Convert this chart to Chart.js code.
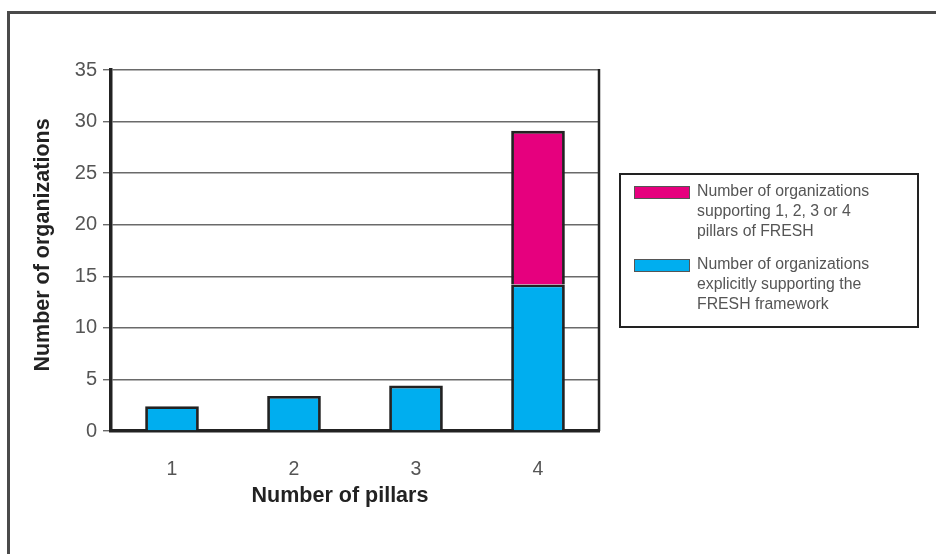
<!DOCTYPE html>
<html>
<head>
<meta charset="utf-8">
<script src="https://cdn.jsdelivr.net/npm/chart.js@4/dist/chart.umd.min.js"></script>
<style>
  html, body { margin: 0; padding: 0; background: #ffffff; }
  #wrap { width: 936px; height: 554px; position: relative; }
</style>
</head>
<body>
<div id="wrap"><canvas id="c" width="936" height="554"></canvas></div>
<script>
// Categories on the x axis
const pillarCounts = ['1', '2', '3', '4'];

// Organizations explicitly supporting the FRESH framework (bottom segment)
const explicitSupport = [2.4, 3.4, 4.4, 14.2];

// Organizations supporting 1-4 pillars of FRESH (stacked on top)
const pillarSupport = [null, null, null, 14.9];

// Value axis range and step
const yMin = 0;
const yMax = 35;
const yStep = 5;

// Legend entries, one line per array item
const explicitLabel = ['Number of organizations', 'explicitly supporting the', 'FRESH framework'];
const pillarLabel = ['Number of organizations', 'supporting 1, 2, 3 or 4', 'pillars of FRESH'];

const xTitle = 'Number of pillars';
const yTitle = 'Number of organizations';

const BLUE = '#00AEEF';
const MAGENTA = '#E6007E';
const EDGE = '#222222';
const FONT = '"Liberation Sans", Arial, Helvetica, sans-serif';

// Page frame, right plot border, axis titles and boxed legend
const decorations = {
  id: 'decorations',
  beforeDraw(chart) {
    const ctx = chart.ctx;
    ctx.save();
    ctx.fillStyle = '#ffffff';
    ctx.fillRect(0, 0, chart.width, chart.height);
    ctx.strokeStyle = '#4a4a4a';
    ctx.lineWidth = 3;
    ctx.strokeRect(8.5, 12.5, chart.width + 20, chart.height + 20);
    ctx.restore();
  },
  afterDraw(chart) {
    const ctx = chart.ctx;
    const area = chart.chartArea;
    ctx.save();

    // right edge of plot
    ctx.strokeStyle = EDGE;
    ctx.lineWidth = 2.5;
    ctx.beginPath();
    ctx.moveTo(area.right, area.top - 1);
    ctx.lineTo(area.right, area.bottom);
    ctx.stroke();

    // axis titles
    ctx.fillStyle = '#222222';
    ctx.font = 'bold 21.5px ' + FONT;
    ctx.textAlign = 'center';
    ctx.textBaseline = 'middle';
    ctx.fillText(xTitle, 340, 496);
    ctx.translate(43, 245);
    ctx.rotate(-Math.PI / 2);
    ctx.fillText(yTitle, 0, 0);
    ctx.setTransform(1, 0, 0, 1, 0, 0);

    // legend box
    const bx = 620, by = 174, bw = 298, bh = 153;
    ctx.strokeStyle = EDGE;
    ctx.lineWidth = 2;
    ctx.strokeRect(bx, by, bw, bh);

    const sets = chart.data.datasets.slice().reverse();
    const entryTops = [186, 259];
    ctx.font = '15.8px ' + FONT;
    ctx.textAlign = 'left';
    ctx.textBaseline = 'middle';
    sets.forEach((ds, i) => {
      const top = entryTops[i];
      ctx.fillStyle = ds.backgroundColor;
      ctx.fillRect(634, top, 56, 13);
      ctx.strokeStyle = '#555555';
      ctx.lineWidth = 1;
      ctx.strokeRect(634.5, top + 0.5, 55, 12);
      ctx.fillStyle = '#555555';
      ds.legendLines.forEach((line, k) => {
        ctx.fillText(line, 697, top + 6 + k * 20);
      });
    });
    ctx.restore();
  }
};

new Chart(document.getElementById('c'), {
  type: 'bar',
  data: {
    labels: pillarCounts,
    datasets: [
      {
        label: explicitLabel.join(' '),
        legendLines: explicitLabel,
        data: explicitSupport,
        backgroundColor: BLUE,
        borderColor: EDGE,
        borderWidth: 2.8,
        barPercentage: 0.44,
        categoryPercentage: 1
      },
      {
        label: pillarLabel.join(' '),
        legendLines: pillarLabel,
        data: pillarSupport,
        backgroundColor: MAGENTA,
        borderColor: EDGE,
        borderWidth: 2.8,
        barPercentage: 0.44,
        categoryPercentage: 1
      }
    ]
  },
  options: {
    responsive: false,
    animation: false,
    devicePixelRatio: 1,
    layout: { padding: { top: 70, right: 337, left: 0, bottom: 0 } },
    plugins: {
      legend: { display: false },
      tooltip: { enabled: false },
      title: { display: false }
    },
    scales: {
      x: {
        stacked: true,
        grid: { display: false },
        border: { display: true, color: EDGE, width: 3.5 },
        ticks: {
          color: '#555555',
          font: { family: FONT, size: 19.5 },
          padding: 19
        },
        afterFit(scale) { scale.height = 123; }
      },
      y: {
        stacked: true,
        min: yMin,
        max: yMax,
        ticks: {
          stepSize: yStep,
          color: '#555555',
          font: { family: FONT, size: 20 },
          padding: 6
        },
        grid: {
          color: '#6a6a6a',
          lineWidth: 1.4,
          drawTicks: true,
          tickLength: 8
        },
        border: { display: true, color: EDGE, width: 3.5 },
        afterFit(scale) { scale.width = 111; }
      }
    }
  },
  plugins: [decorations]
});
</script>
</body>
</html>
